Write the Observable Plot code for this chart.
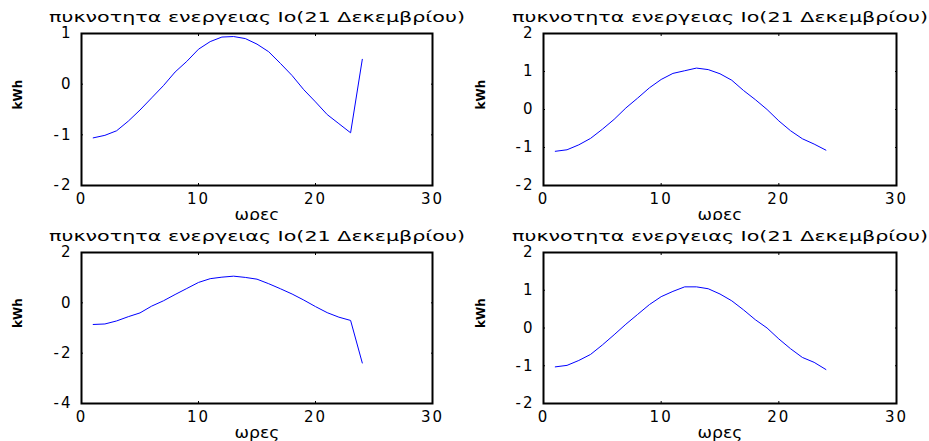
<!DOCTYPE html>
<html><head><meta charset="utf-8">
<script src="https://cdn.jsdelivr.net/npm/d3@7"></script>
<script src="https://cdn.jsdelivr.net/npm/@observablehq/plot@0.6"></script>
<style>
body{margin:0;background:#fff;}
#root{position:relative;width:929px;height:441px;overflow:hidden;background:#fff;}
.panel{position:absolute;}
.panel svg{overflow:visible;}
g[aria-label$="tick label"] text{letter-spacing:2px;}
</style></head><body><div id="root"></div>
<script>
const hours = [1,2,3,4,5,6,7,8,9,10,11,12,13,14,15,16,17,18,19,20,21,22,23,24];
const series1 = [-1.06,-1.01,-0.92,-0.73,-0.51,-0.27,-0.03,0.24,0.45,0.69,0.84,0.93,0.94,0.90,0.79,0.64,0.41,0.17,-0.11,-0.35,-0.60,-0.78,-0.96,0.49];
const series2 = [-1.10,-1.06,-0.93,-0.76,-0.52,-0.26,0.04,0.30,0.57,0.79,0.95,1.02,1.09,1.05,0.94,0.77,0.50,0.26,0.00,-0.30,-0.56,-0.77,-0.91,-1.07];
const series3 = [-0.86,-0.84,-0.72,-0.55,-0.40,-0.13,0.08,0.33,0.57,0.81,0.96,1.02,1.06,1.01,0.94,0.76,0.56,0.35,0.11,-0.15,-0.39,-0.57,-0.70,-2.39];
const series4 = [-1.03,-0.99,-0.86,-0.70,-0.45,-0.18,0.10,0.36,0.62,0.83,0.97,1.09,1.09,1.04,0.90,0.72,0.48,0.22,0.00,-0.29,-0.55,-0.78,-0.91,-1.10];
const titleText = "πυκνοτητα ενεργειας Ιο(21 Δεκεμβρίου)";
const xLabel = "ωρες";
const yLabel = "kWh";
const xDomain = [0, 30];
const xTicks = [0, 10, 20, 30];
const yDomain1 = [-2, 1], yTicks1 = [-2, -1, 0, 1];
const yDomain2 = [-2, 2], yTicks2 = [-2, -1, 0, 1, 2];
const yDomain3 = [-4, 2], yTicks3 = [-4, -2, 0, 2];
const yDomain4 = [-2, 2], yTicks4 = [-2, -1, 0, 1, 2];

const panels = [
  {values: series1, yDomain: yDomain1, yTicks: yTicks1, left: 0,   top: 0,   width: 465, height: 220, mL: 81, mR: 33, mT: 33, mB: 35, ylx: -63},
  {values: series2, yDomain: yDomain2, yTicks: yTicks2, left: 464, top: 0,   width: 465, height: 220, mL: 79, mR: 33, mT: 33, mB: 35, ylx: -62},
  {values: series3, yDomain: yDomain3, yTicks: yTicks3, left: 0,   top: 220, width: 465, height: 221, mL: 81, mR: 33, mT: 32, mB: 38, ylx: -63},
  {values: series4, yDomain: yDomain4, yTicks: yTicks4, left: 464, top: 220, width: 465, height: 221, mL: 79, mR: 33, mT: 32, mB: 38, ylx: -62}
];

const root = document.getElementById("root");
const fmt = d => String(d);
for (const p of panels) {
  const data = hours.map((h, i) => ({h, v: p.values[i]}));
  const chart = Plot.plot({
    width: p.width, height: p.height,
    marginLeft: p.mL, marginRight: p.mR, marginTop: p.mT, marginBottom: p.mB,
    style: {fontFamily: "DejaVu Sans", fontSize: "15px", color: "black", background: "white", overflow: "visible"},
    x: {domain: xDomain, label: null},
    y: {domain: p.yDomain, label: null},
    marks: [
      Plot.axisX(xTicks, {anchor: "bottom", tickSize: 0, tickPadding: 8, tickFormat: fmt, label: null, fontSize: 15}),
      Plot.axisX(xTicks, {anchor: "bottom", tickSize: -2, text: null, label: null}),
      Plot.axisX(xTicks, {anchor: "top", tickSize: -2, text: null, label: null}),
      Plot.axisY(p.yTicks, {anchor: "left", tickSize: 0, tickPadding: 9, tickFormat: fmt, label: null, fontSize: 15}),
      Plot.axisY(p.yTicks, {anchor: "left", tickSize: -2, text: null, label: null}),
      Plot.axisY(p.yTicks, {anchor: "right", tickSize: -2, text: null, label: null}),
      Plot.line(data, {x: "h", y: "v", stroke: "#0000ff", strokeWidth: 1}),
      Plot.frame({stroke: "black", strokeWidth: 2}),
      Plot.text([titleText], {frameAnchor: "top", dy: -12, lineAnchor: "bottom", fontSize: 14.5}),
      Plot.text([xLabel], {frameAnchor: "bottom", dy: 34, lineAnchor: "bottom", fontSize: 15}),
      Plot.text([yLabel], {frameAnchor: "left", dx: p.ylx, rotate: -90, fontSize: 12, fontWeight: "bold"})
    ]
  });
  const div = document.createElement("div");
  div.className = "panel";
  div.style.left = p.left + "px";
  div.style.top = p.top + "px";
  div.appendChild(chart);
  root.appendChild(div);
  chart.querySelectorAll("text").forEach(t => {
    if (t.textContent === titleText) { t.setAttribute("textLength", 416); t.setAttribute("lengthAdjust", "spacingAndGlyphs"); }
    if (t.textContent === xLabel) { t.setAttribute("textLength", 45); t.setAttribute("lengthAdjust", "spacingAndGlyphs"); }
  });
}
</script></body></html>
